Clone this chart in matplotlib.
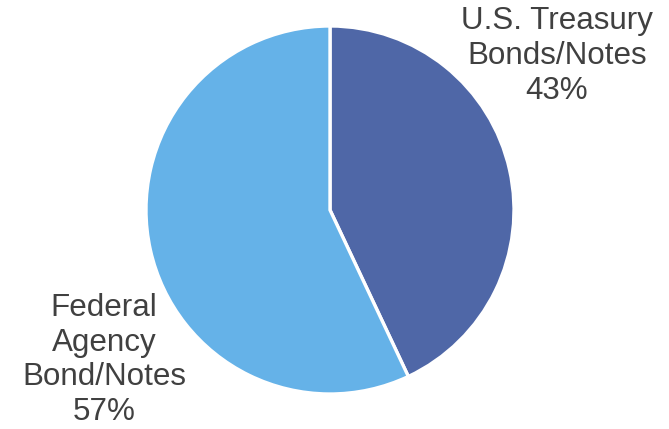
import matplotlib
matplotlib.use('Agg')
import matplotlib.pyplot as plt

categories = ['U.S. Treasury\nBonds/Notes', 'Federal\nAgency\nBond/Notes']
shares = [43, 57]
colors = ['#4F67A7', '#65B2E8']

plt.rcParams['font.family'] = ['Liberation Sans', 'DejaVu Sans']

W, H = 669, 429
fig = plt.figure(figsize=(W / 100, H / 100), dpi=100)

# pie centred at (330, 210) px from top, radius ~184 px
cx, cy, r = 330, 210, 184
ax = fig.add_axes([(cx - r) / W, (H - cy - r) / H, 2 * r / W, 2 * r / H])
ax.pie(shares, colors=colors, startangle=90, counterclock=False,
       wedgeprops=dict(edgecolor='white', linewidth=2.4), radius=1)
ax.set_xlim(-1, 1)
ax.set_ylim(-1, 1)
ax.set_aspect('equal')
ax.axis('off')

label_pos = [(557, 56), (104, 360)]
for name, val, (px, py) in zip(categories, shares, label_pos):
    fig.text(px / W, (H - py) / H, f'{name}\n{val}%', ha='center', va='center',
             fontsize=22.6, color='#404040', linespacing=1.2)

fig.savefig('out.png', dpi=100)
